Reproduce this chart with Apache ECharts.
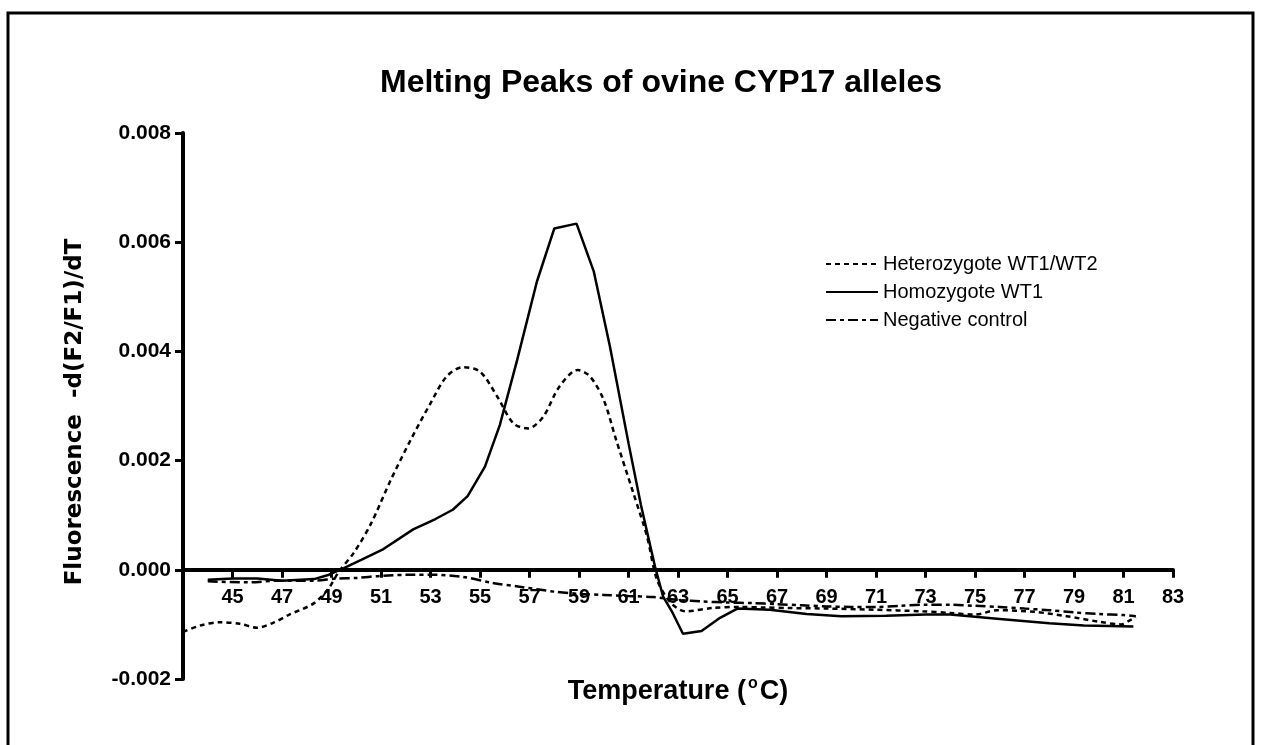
<!DOCTYPE html>
<html>
<head>
<meta charset="utf-8">
<script src="https://cdn.jsdelivr.net/npm/echarts@6/dist/echarts.min.js"></script>
<style>html,body{margin:0;padding:0;background:#fff}#c{width:1261px;height:745px}</style>
</head>
<body>
<div id="c"></div>
<script>
const titleText = 'Melting Peaks of ovine CYP17 alleles';
const seriesNames = ['Heterozygote WT1/WT2', 'Homozygote WT1', 'Negative control'];
const yTickLabels = ['-0.002', '0.000', '0.002', '0.004', '0.006', '0.008'];
const xTickLabels = ['45','47','49','51','53','55','57','59','61','63','65','67','69','71','73','75','77','79','81','83'];

const hetTemp = [43.0,43.7,44.5,45.3,46.0,46.7,47.3,48.3,48.9,49.3,49.9,50.6,51.4,52.2,53.0,53.65,54.3,55.0,55.7,56.35,56.95,57.55,58.2,58.95,59.45,60.0,60.5,61.2,61.75,62.15,62.7,63.3,64.4,65.5,66.5,67.5,69.0,70.9,72.8,74.0,75.0,75.9,77.4,78.7,80.0,80.9,81.2,81.5];
const hetVal  = [-0.00114,-0.00102,-0.00096,-0.00099,-0.00106,-0.00096,-0.00082,-0.00061,-0.00033,-0.00003,0.00031,0.00085,0.00165,0.00238,0.00305,0.00354,0.00371,0.00363,0.00317,0.00268,0.00259,0.00280,0.00335,0.00366,0.00354,0.00311,0.00238,0.00140,0.00061,-0.00018,-0.00060,-0.00076,-0.00070,-0.00068,-0.00069,-0.00070,-0.00071,-0.00073,-0.00076,-0.00079,-0.00082,-0.00074,-0.00077,-0.00085,-0.00095,-0.00100,-0.00094,-0.00087];

const homTemp = [44.0,45.0,46.0,47.0,48.3,48.9,49.5,50.2,51.1,52.3,53.2,53.9,54.5,55.2,55.8,56.5,57.3,58.0,58.9,59.6,60.25,61.0,61.5,62.07,62.4,62.75,63.2,63.95,64.7,65.4,66.7,68.2,69.6,71.4,73.0,74.0,76.0,78.0,79.4,81.4];
const homVal  = [-0.00018,-0.00016,-0.00016,-0.00020,-0.00017,-0.00009,0.00003,0.00018,0.00038,0.00074,0.00093,0.00110,0.00135,0.00189,0.00265,0.00384,0.00528,0.00625,0.00634,0.00546,0.00409,0.00232,0.00119,0.00006,-0.00049,-0.00076,-0.00117,-0.00112,-0.00088,-0.00071,-0.00073,-0.00081,-0.00085,-0.00084,-0.00082,-0.00082,-0.00090,-0.00098,-0.00102,-0.00104];

const negTemp = [44.0,45.6,46.9,48.25,49.2,50.0,51.0,52.3,53.0,54.3,55.5,56.6,58.0,59.0,60.0,61.0,62.0,63.0,64.0,65.0,66.0,67.0,68.0,69.0,70.0,71.0,72.0,73.0,74.0,75.0,76.0,77.0,78.0,79.0,80.0,81.0,81.5];
const negVal  = [-0.00021,-0.00023,-0.00020,-0.00020,-0.00016,-0.00015,-0.00011,-0.00009,-0.00009,-0.00013,-0.00024,-0.00031,-0.00040,-0.00044,-0.00046,-0.00048,-0.00050,-0.00055,-0.00058,-0.00060,-0.00061,-0.00063,-0.00065,-0.00067,-0.00068,-0.00068,-0.00066,-0.00064,-0.00064,-0.00066,-0.00068,-0.00071,-0.00074,-0.00078,-0.00081,-0.00083,-0.00085];

const pairs = (xs, ys) => xs.map((x, i) => [x, ys[i]]);
const FONT = '"Liberation Sans", Arial, sans-serif';
const WIDE = '"DejaVu Sans", "Liberation Sans", sans-serif';

const GRID_TOP = 133, GRID_BOTTOM = 66, Y_MIN = -0.002, Y_MAX = 0.008;
const plotH = 745 - GRID_TOP - GRID_BOTTOM;
// shift the x axis up so it sits on y = 0 (offset derived from the y scale)
const xAxisOffset = -plotH * (0 - Y_MIN) / (Y_MAX - Y_MIN);

const chart = echarts.init(document.getElementById('c'), null, {renderer: 'canvas'});
chart.setOption({
  animation: false,
  backgroundColor: '#fff',
  title: {
    text: titleText, left: 380, top: 67, padding: 0,
    textStyle: {fontFamily: FONT, fontWeight: 'bold', fontSize: 32, color: '#000'}
  },
  graphic: [{
    type: 'rect', silent: true,
    shape: {x: 8, y: 13, width: 1245, height: 800},
    style: {fill: 'none', stroke: '#000', lineWidth: 3}
  }],
  legend: {
    orient: 'vertical', left: 825, top: 254, padding: 0, itemWidth: 52, itemHeight: 14, itemGap: 8,
    itemStyle: {opacity: 0},
    textStyle: {fontFamily: FONT, fontSize: 20, color: '#000'},
    data: seriesNames
  },
  grid: {left: 183, right: 88, top: GRID_TOP, bottom: GRID_BOTTOM, containLabel: false, outerBoundsMode: 'none'},
  xAxis: {
    type: 'value', min: 43, max: 83, interval: 2, position: 'bottom', offset: xAxisOffset,
    name: '{a|Temperature (}{s|o}{a|C)}', nameLocation: 'middle', nameGap: 106,
    nameTextStyle: {
      rich: {
        a: {fontFamily: FONT, fontWeight: 'bold', fontSize: 27, color: '#000'},
        s: {fontFamily: FONT, fontWeight: 'bold', fontSize: 16, color: '#000', padding: [0, 2, 16, 2]}
      }
    },
    axisLine: {onZero: false, lineStyle: {color: '#000', width: 4}},
    axisTick: {length: 8, lineStyle: {color: '#000', width: 3}},
    axisLabel: {
      fontFamily: FONT, fontWeight: 'bold', fontSize: 20, color: '#000', margin: 18,
      formatter: v => { const s = String(Math.round(v)); return xTickLabels.indexOf(s) >= 0 ? s : ''; }
    },
    splitLine: {show: false}
  },
  yAxis: {
    type: 'value', min: Y_MIN, max: Y_MAX, interval: 0.002,
    name: 'Fluorescence  -d(F2/F1)/dT', nameLocation: 'middle', nameGap: 96,
    nameTextStyle: {fontFamily: WIDE, fontWeight: 'bold', fontSize: 23, color: '#000', padding: [0, 12, 0, 0]},
    axisLine: {show: true, lineStyle: {color: '#000', width: 4}},
    axisTick: {show: true, length: 8, lineStyle: {color: '#000', width: 3}},
    axisLabel: {
      fontFamily: FONT, fontWeight: 'bold', fontSize: 21, color: '#000', margin: 12,
      formatter: v => yTickLabels[Math.round((v - Y_MIN) / 0.002)]
    },
    splitLine: {show: false}
  },
  series: [
    {name: seriesNames[0], type: 'line', data: pairs(hetTemp, hetVal), symbol: 'none', smooth: 0.3,
     color: '#000', lineStyle: {color: '#000', width: 2.5, type: [5, 4]}},
    {name: seriesNames[1], type: 'line', data: pairs(homTemp, homVal), symbol: 'none', smooth: false,
     color: '#000', lineStyle: {color: '#000', width: 2.5, type: 'solid'}},
    {name: seriesNames[2], type: 'line', data: pairs(negTemp, negVal), symbol: 'none', smooth: 0.3,
     color: '#000', lineStyle: {color: '#000', width: 2.5, type: [10, 4, 4, 4]}}
  ]
});
</script>
</body>
</html>
